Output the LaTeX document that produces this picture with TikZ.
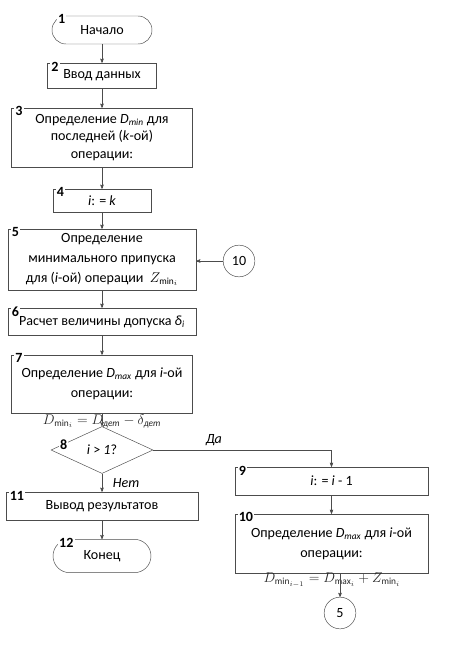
\documentclass[tikz,border=0pt]{standalone}
\usepackage{fontspec}
\usepackage{amsmath, amssymb}
\setmainfont{Carlito}
\usetikzlibrary{positioning}
\usetikzlibrary{arrows}
\usetikzlibrary{shapes}
\tikzset{
        blocknode/.style={align=center, inner sep=2pt, draw=black!70, fill=white, font=\fontsize{12}{17}\selectfont},
        % Process blocks
        node_block/.style={blocknode, rectangle},
        % Start and end
        node_term/.style={blocknode, rectangle, rounded corners=0.42cm},
        % Decision
        node_decision/.style={blocknode, diamond, inner sep=0pt},
        % Connectors
        node_conn/.style={blocknode, circle, inner sep=0pt, minimum size=0.95cm},
        % Block numbers
        node_num/.style={fill=white, inner sep=1pt, anchor=west, xshift=0.08cm, yshift=-0.11cm, font=\bfseries\fontsize{12}{14}\selectfont},
        % Formulas under the blocks
        node_formula/.style={inner sep=0pt, text=black!85, font=\fontsize{12}{14}\selectfont}
}

\begin{document}
\begin{tikzpicture}[->, >=stealth', draw=black!70]
    \useasboundingbox (0,0) rectangle (14.22,-19.41);
    % left column
    \node[node_term, minimum width=3.0cm, minimum height=0.84cm] (b1) at (3.06,-0.9) {Начало};
    \node[node_block, minimum width=3.27cm, minimum height=0.75cm] (b2) at (3.06,-2.265) {Ввод данных};
    \node[node_block, minimum width=5.43cm, minimum height=1.77cm, font=\fontsize{12}{15}\selectfont] (b3) at (3.06,-4.125)
        {Определение \textit{D\textsubscript{min}} для\\последней (\textit{k}-ой)\\операции:};
    \node[node_block, minimum width=2.94cm, minimum height=0.69cm] (b4) at (3.06,-6.015) {\textit{i}: = \textit{k}};
    \node[node_block, minimum width=5.64cm, minimum height=1.83cm] (b5) at (3.06,-7.785)
        {Определение\\минимального припуска\\для (\textit{i}-ой) операции \ $Z_{\min_i}$};
    \node[node_block, minimum width=5.64cm, minimum height=0.81cm] (b6) at (3.06,-9.645) {Расчет величины допуска \textit{δ\textsubscript{i}}};
    \node[node_block, minimum width=5.43cm, minimum height=1.74cm] (b7) at (3.06,-11.52)
        {Определение \textit{D\textsubscript{max}} для \textit{i}-ой\\операции:};
    \node[node_formula] (f7) at (3.06,-12.63) {$D_{\min_i} = D_{\text{\itshape дет}} - \delta_{\text{\itshape дет}}$};
    \node[node_decision, minimum width=3.06cm, minimum height=1.41cm] (d8) at (3.06,-13.5) {\textit{i} > \textit{1}?};
    \node[node_block, minimum width=5.76cm, minimum height=0.84cm] (b11) at (3.06,-15.18) {Вывод результатов};
    \node[node_term, minimum width=2.94cm, minimum height=1.0cm, rounded corners=0.5cm] (b12) at (3.06,-16.68) {Конец};
    % right column
    \node[node_conn] (c10) at (7.17,-7.83) {10};
    \node[node_block, minimum width=5.79cm, minimum height=0.84cm] (b9) at (9.945,-14.43) {\textit{i}: = \textit{i} - 1};
    \node[node_block, minimum width=5.79cm, minimum height=1.77cm] (b10) at (9.945,-16.305)
        {Определение \textit{D\textsubscript{max}} для \textit{i}-ой\\операции:};
    \node[node_formula] (f10) at (9.96,-17.4) {$D_{\min_{i-1}} = D_{\max_i} + Z_{\min_i}$};
    \node[node_conn] (c5) at (10.2,-18.39) {5};

    % connectors
    \draw (b1) -- (b2);
    \draw (b2) -- (b3);
    \draw (b3) -- (b4);
    \draw (b4) -- (b5);
    \draw (b5) -- (b6);
    \draw (b6) -- (b7);
    \draw (b7) -- (d8);
    \draw (d8) -- (b11) node[midway, right, xshift=0.2cm, font=\itshape\fontsize{12}{14}\selectfont] {Нет};
    \draw (b11) -- (b12);
    \draw (d8.east) -| (b9.north) node[pos=0.17, above, font=\itshape\fontsize{12}{14}\selectfont] {Да};
    \draw (b9) -- (b10);
    \draw (b10.south -| c5) -- (c5.north);
    \draw (c10) -- (c10 -| b5.east);

    % block numbers
    \node[node_num] at ([xshift=0.07cm]b1.north west) {1};
    \node[node_num] at (b2.north west) {2};
    \node[node_num] at (b3.north west) {3};
    \node[node_num] at (b4.north west) {4};
    \node[node_num] at (b5.north west) {5};
    \node[node_num] at (b6.north west) {6};
    \node[node_num] at (b7.north west) {7};
    \node[node_num] at ([shift={(0.16,0.26)}]d8.west) {8};
    \node[node_num] at (b9.north west) {9};
    \node[node_num] at (b10.north west) {10};
    \node[node_num] at (b11.north west) {11};
    \node[node_num] at ([xshift=0.07cm]b12.north west) {12};
\end{tikzpicture}
\end{document}
